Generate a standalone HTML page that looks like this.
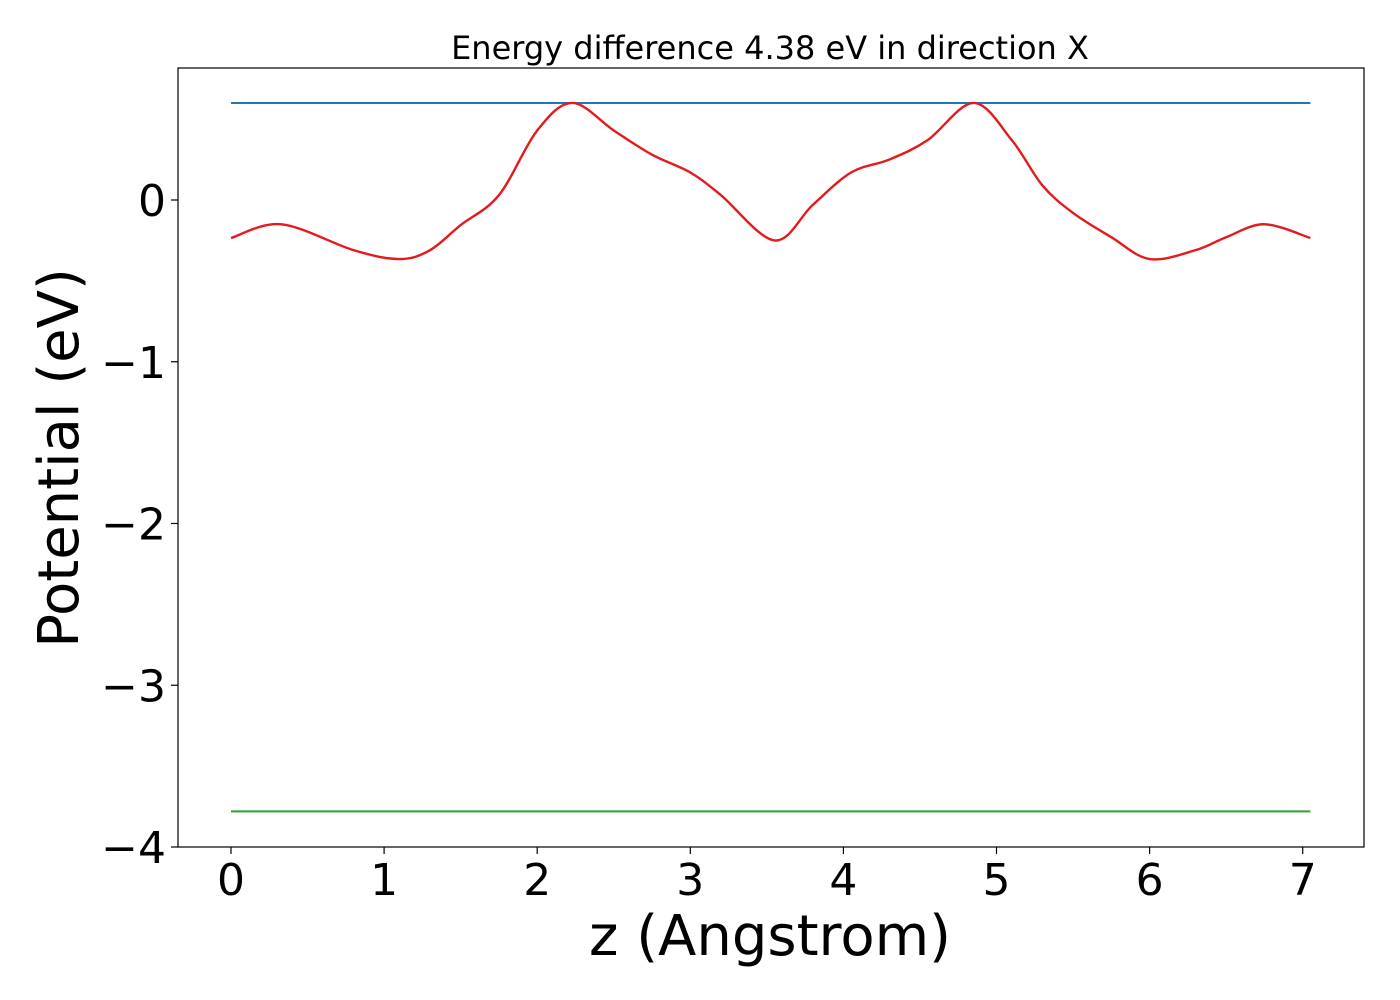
<!DOCTYPE html>
<html><head><meta charset="utf-8"><style>body{margin:0;background:#fff}svg{display:block}text{font-family:"DejaVu Sans","Liberation Sans",sans-serif}</style></head>
<body>
<svg id="chart" width="1400" height="1000">
<rect x="178" y="68" width="1186" height="779" fill="none" stroke="#000" stroke-width="1.2"/>
<text x="770" y="59" font-size="32" text-anchor="middle">Energy difference 4.38 eV in direction X</text>
<text x="770" y="955" font-size="56" text-anchor="middle">z (Angstrom)</text>
<text transform="translate(78,458) rotate(-90)" font-size="56" text-anchor="middle">Potential (eV)</text>
<g id="ticks"></g><g id="marks"></g>
</svg>
<script>
const xTicks=[0,1,2,3,4,5,6,7];
const yTicks=[0,-1,-2,-3,-4];
const yTickLabels=["0","\u22121","\u22122","\u22123","\u22124"];
const upperLevel=0.60;
const lowerLevel=-3.78;
const levelXRange=[0,7.05];
const curveZ=[0,0.33,0.8,1.1,1.3,1.5,1.75,2.0,2.23,2.5,2.75,3.0,3.2,3.55,3.8,4.05,4.3,4.55,4.85,5.1,5.3,5.5,5.75,6.0,6.3,6.5,6.75,7.05];
const curveV=[-0.235,-0.15,-0.31,-0.365,-0.31,-0.155,0.03,0.43,0.6,0.43,0.28,0.17,0.03,-0.25,-0.03,0.17,0.25,0.37,0.6,0.37,0.09,-0.08,-0.23,-0.365,-0.31,-0.23,-0.15,-0.235];
const NS="http://www.w3.org/2000/svg";
const X=v=>231+v*153.1, Y=v=>200-v*161.75;
const tg=document.getElementById('ticks'), mg=document.getElementById('marks');
function mk(tag,attrs,parent){const e=document.createElementNS(NS,tag);for(const k in attrs)e.setAttribute(k,attrs[k]);parent.appendChild(e);return e;}
xTicks.forEach(t=>{
 const l=mk('line',{x1:X(t),x2:X(t),y1:847,y2:854,stroke:'#000','stroke-width':1.2},tg);
 
 
 const s=mk('text',{x:X(t),y:895,'font-size':44,'text-anchor':'middle'},tg);s.textContent=t;
 
 
});
yTicks.forEach((t,i)=>{
 const l=mk('line',{x1:171,x2:178,y1:Y(t),y2:Y(t),stroke:'#000','stroke-width':1.2},tg);
 
 
 const s=mk('text',{x:166,y:Y(t)+16,'font-size':44,'text-anchor':'end'},tg);s.textContent=yTickLabels[i];
 
 
});
const b=mk('line',{x1:X(levelXRange[0]),x2:X(levelXRange[1]),y1:Y(upperLevel),y2:Y(upperLevel),stroke:'#1f77b4','stroke-width':2},mg);


const g=mk('line',{x1:X(levelXRange[0]),x2:X(levelXRange[1]),y1:Y(lowerLevel),y2:Y(lowerLevel),stroke:'#2ca02c','stroke-width':2},mg);


const P=curveZ.map((z,i)=>[X(z),Y(curveV[i])]);
let d='M'+P[0][0]+','+P[0][1];
for(let i=0;i<P.length-1;i++){const p0=P[Math.max(0,i-1)],p1=P[i],p2=P[i+1],p3=P[Math.min(P.length-1,i+2)];
 d+=' C'+(p1[0]+(p2[0]-p0[0])/6)+','+(p1[1]+(p2[1]-p0[1])/6)+' '+(p2[0]-(p3[0]-p1[0])/6)+','+(p2[1]-(p3[1]-p1[1])/6)+' '+p2[0]+','+p2[1];}
const c=mk('path',{d:d,fill:'none',stroke:'#e41a1c','stroke-width':2.4},mg);


</script>
</body></html>
